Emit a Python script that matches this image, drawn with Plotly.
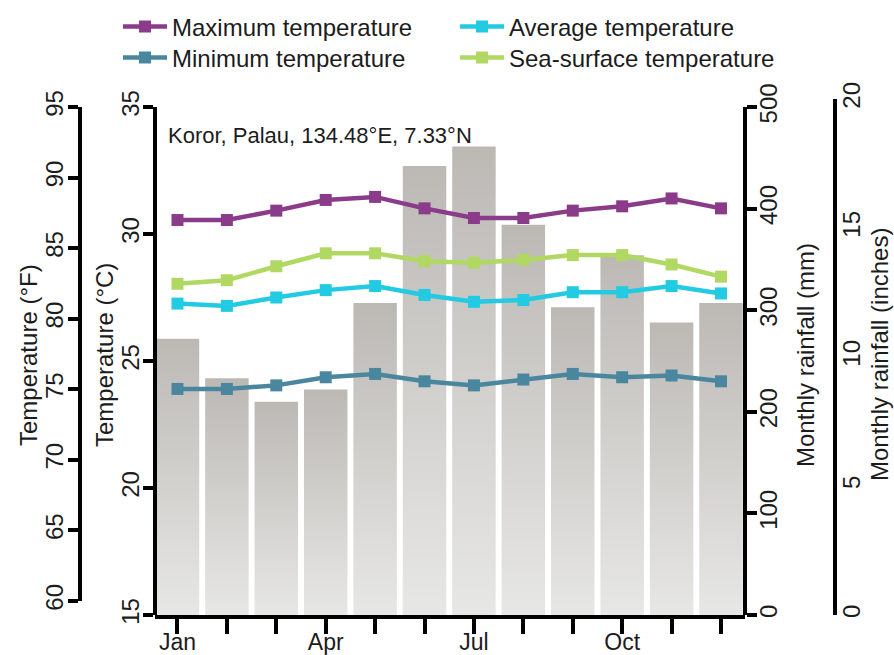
import plotly.graph_objects as go

# Monthly climate data for Koror, Palau
months = ["Jan", "Feb", "Mar", "Apr", "May", "Jun",
          "Jul", "Aug", "Sep", "Oct", "Nov", "Dec"]
month_labels = ["Jan", "", "", "Apr", "", "", "Jul", "", "", "Oct", "", ""]
rainfall_mm = [272, 233, 210, 222, 307, 442, 461, 384, 303, 354, 288, 307]
max_temp_c = [30.55, 30.55, 30.92, 31.34, 31.46, 31.01, 30.63, 30.63, 30.92, 31.09, 31.40, 31.01]
sst_c = [28.04, 28.18, 28.73, 29.24, 29.24, 28.93, 28.87, 28.98, 29.17, 29.17, 28.80, 28.32]
avg_temp_c = [27.26, 27.17, 27.50, 27.79, 27.95, 27.60, 27.33, 27.40, 27.71, 27.71, 27.95, 27.66]
min_temp_c = [23.90, 23.90, 24.04, 24.36, 24.49, 24.20, 24.04, 24.27, 24.49, 24.36, 24.43, 24.20]

c_ticks = [15, 20, 25, 30, 35]
f_ticks = [60, 65, 70, 75, 80, 85, 90, 95]
mm_ticks = [0, 100, 200, 300, 400, 500]
in_ticks = [0, 5, 10, 15, 20]

# unit conversions for the secondary scales
rainfall_in = [v / 25.4 for v in rainfall_mm]
max_temp_f = [c * 9 / 5 + 32 for c in max_temp_c]

W, H = 894, 655
FONT = "Liberation Sans, Arial, sans-serif"
INK = "#1c1c1c"
FS = 24

# plot-area edges in pixels
left_px, right_px, top_px, bottom_px = 155, 745, 107, 615
px_per_c = (bottom_px - top_px) / 20.0          # 15..35 degC
px_per_mm = (bottom_px - top_px) / 500.0        # 0..500 mm


def ydom(lo_px, hi_px):
    return [(H - lo_px) / H, (H - hi_px) / H]


x_dom = [left_px / W, right_px / W]
y_dom = ydom(bottom_px, top_px)
# Fahrenheit scale: 95 F = 35 C at the top, 60 F sits just above the 15 C baseline
f_bottom_px = bottom_px - ((60 - 32) * 5 / 9 - 15) * px_per_c
f_dom = ydom(f_bottom_px, top_px)
# inch scale: 0 in at the baseline, 20 in = 508 mm
in_dom = ydom(bottom_px, bottom_px - 20 * 25.4 * px_per_mm)

fig = go.Figure()

# rainfall bars, each filled with a vertical grey gradient
half = 0.44
for i, v in enumerate(rainfall_mm):
    fig.add_trace(go.Scatter(
        x=[i - half, i - half, i + half, i + half, i - half],
        y=[0, v, v, 0, 0],
        mode="lines", line=dict(width=0), fill="toself",
        fillgradient=dict(type="vertical",
                          colorscale=[[0, "#e7e7e5"], [1, "#bcb9b5"]]),
        showlegend=False, hoverinfo="skip",
        xaxis="x", yaxis="y"))

series = [
    ("Maximum temperature", max_temp_c, "#8a3c8a", "legend"),
    ("Sea-surface temperature", sst_c, "#b1d862", "legend4"),
    ("Average temperature", avg_temp_c, "#22cbe2", "legend3"),
    ("Minimum temperature", min_temp_c, "#4a879e", "legend2"),
]
for name, vals, col, leg in series:
    fig.add_trace(go.Scatter(
        x=list(range(12)), y=vals, name=name, mode="lines+markers",
        line=dict(color=col, width=4.5),
        marker=dict(symbol="square", size=12, color=col),
        xaxis="x", yaxis="y2", legend=leg))

# carriers for the Fahrenheit and inch scales
fig.add_trace(go.Scatter(x=list(range(12)), y=max_temp_f, mode="markers",
                         marker=dict(opacity=0), showlegend=False,
                         hoverinfo="skip", xaxis="x", yaxis="y3"))
fig.add_trace(go.Scatter(x=list(range(12)), y=rainfall_in, mode="markers",
                         marker=dict(opacity=0), showlegend=False,
                         hoverinfo="skip", xaxis="x", yaxis="y4"))

axis_common = dict(showline=True, linecolor="black", linewidth=4,
                   ticks="outside", ticklen=10, tickwidth=3.5, tickcolor="black",
                   showgrid=False, zeroline=False, automargin=False,
                   tickfont=dict(family=FONT, size=FS, color=INK))


def axis(**over):
    d = dict(axis_common)
    d.update(over)
    return d


fig.update_layout(
    width=W, height=H,
    margin=dict(l=0, r=0, t=0, b=0),
    paper_bgcolor="white", plot_bgcolor="rgba(0,0,0,0)",
    font=dict(family=FONT, color=INK),
    xaxis=axis(ticklen=15, ticklabelstandoff=-12,
               tickfont=dict(family=FONT, size=23, color=INK),
               domain=x_dom, range=[-0.455, 11.486], tickmode="array",
               tickvals=list(range(12)), ticktext=month_labels),
    yaxis=axis(domain=y_dom, range=[0, 500], anchor="free", position=right_px / W,
               side="right", tickvals=mm_ticks, tickangle=-90, ticklabelstandoff=-9),
    yaxis2=axis(range=[15, 35], overlaying="y", anchor="free", position=left_px / W,
                side="left", tickvals=c_ticks, tickangle=-90, ticklabelstandoff=-6),
    yaxis3=axis(domain=f_dom, range=[60, 95], anchor="free", position=80 / W,
                side="left", tickvals=f_ticks, tickangle=-90, ticklabelstandoff=-5),
    yaxis4=axis(ticks="", domain=in_dom, range=[0, 20], anchor="free",
                position=835 / W, side="right", tickvals=in_ticks, tickangle=-90,
                ticklabelstandoff=-6),
)

legend_style = dict(bgcolor="rgba(0,0,0,0)", xanchor="left", yanchor="middle",
                    itemwidth=44,
                    font=dict(family=FONT, size=FS, color=INK))
fig.update_layout(
    legend=dict(x=118 / W, y=1 - 27 / H, **legend_style),
    legend2=dict(x=118 / W, y=1 - 58 / H, **legend_style),
    legend3=dict(x=455 / W, y=1 - 27 / H, **legend_style),
    legend4=dict(x=455 / W, y=1 - 58 / H, **legend_style),
)

# axis titles
mid_y = 1 - 355 / H
titles = [
    ("Temperature (°F)", 28),
    ("Temperature (°C)", 104),
    ("Monthly rainfall (mm)", 805),
    ("Monthly rainfall (inches)", 879),
]
for text, xp in titles:
    fig.add_annotation(text=text, xref="paper", yref="paper", x=xp / W, y=mid_y,
                       xanchor="center", yanchor="middle", textangle=-90,
                       showarrow=False, font=dict(family=FONT, size=FS, color=INK))

fig.add_annotation(text="Koror, Palau, 134.48°E, 7.33°N", xref="paper", yref="paper",
                   x=166 / W, y=1 - 135 / H, xanchor="left", yanchor="middle",
                   showarrow=False, font=dict(family=FONT, size=22, color=INK))

fig.write_html("out.html")
